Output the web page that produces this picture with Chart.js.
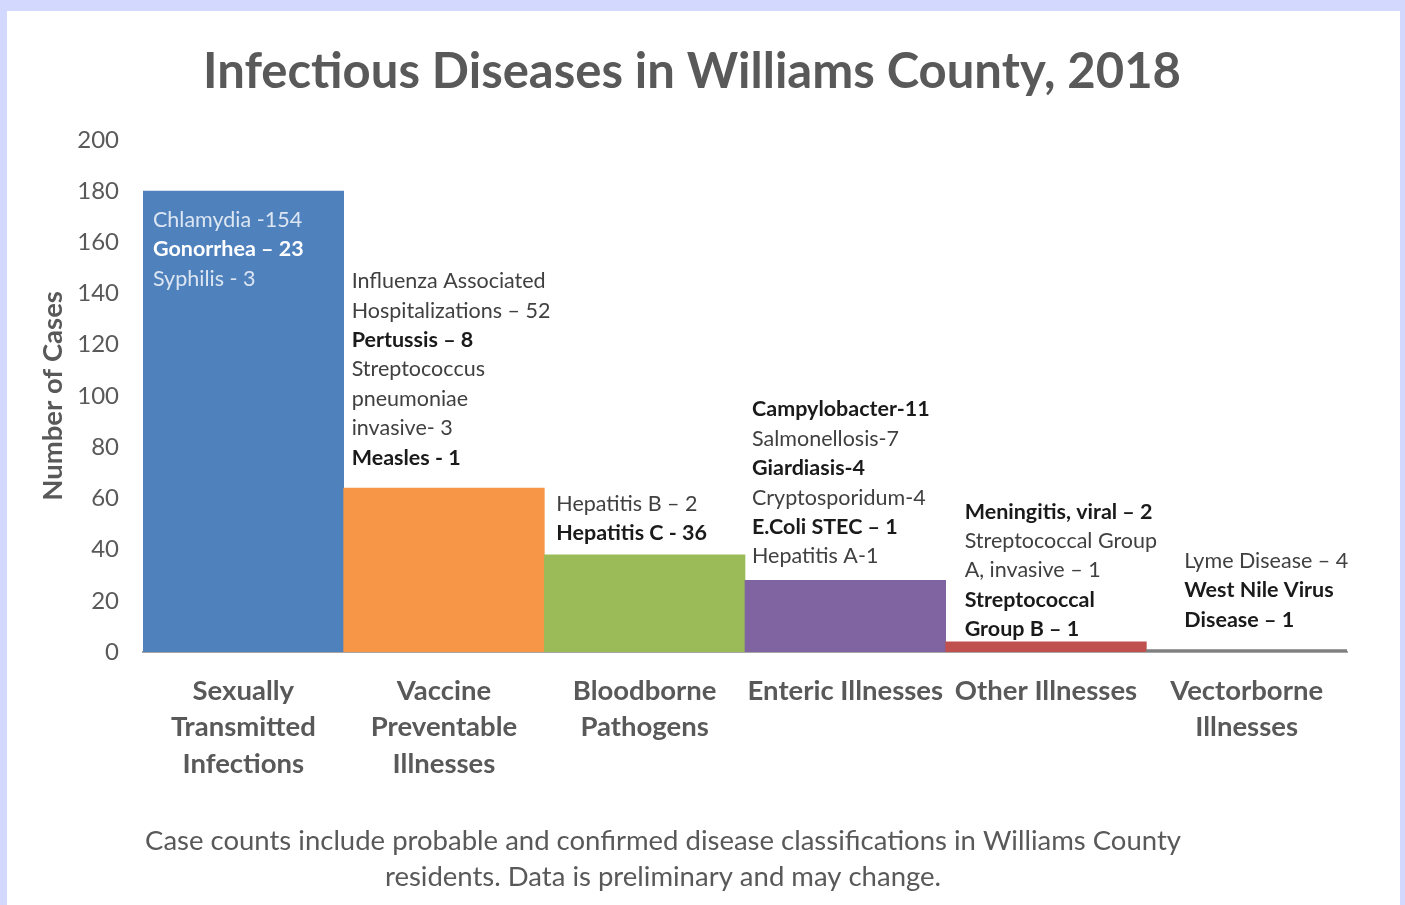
<!DOCTYPE html>
<html><head><meta charset="utf-8">
<script src="https://cdn.jsdelivr.net/npm/chart.js@4.4.1/dist/chart.umd.min.js"></script>
<style>
html,body{margin:0;padding:0;background:#d3d8fe;width:1405px;height:905px;overflow:hidden;}
#panel{position:absolute;left:7px;top:11px;width:1393px;height:894px;background:#fff;}
canvas{display:block;}
</style></head><body>
<div id="panel"><canvas id="c" width="1393" height="894"></canvas></div>
<script>
const categories = [["Sexually","Transmitted","Infections"],["Vaccine","Preventable","Illnesses"],["Bloodborne","Pathogens"],["Enteric Illnesses"],["Other Illnesses"],["Vectorborne","Illnesses"]];
const caseCounts = [180, 64, 38, 28, 4, 1];
const barColors = ["#4f81bd","#f79646","#9bbb59","#8064a2","#c0504d","#7f7f7f"];
const yMin = 0, yMax = 200, yStep = 20;
const titleText = "Infectious Diseases in Williams County, 2018";
const yTitle = "Number of Cases";
const footerLines = ["Case counts include probable and confirmed disease classifications in Williams County","residents. Data is preliminary and may change."];
// notes per category: [text, bold]
const notesSTI = [["Chlamydia -154",false],["Gonorrhea \u2013 23",true],["Syphilis - 3",false]];
const notesVPI = [["Influenza Associated",false],["Hospitalizations \u2013 52",false],["Pertussis \u2013 8",true],["Streptococcus",false],["pneumoniae",false],["invasive- 3",false],["Measles - 1",true]];
const notesBBP = [["Hepatitis B \u2013 2",false],["Hepatitis C - 36",true]];
const notesENT = [["Campylobacter-11",true],["Salmonellosis-7",false],["Giardiasis-4",true],["Cryptosporidum-4",false],["E.Coli STEC \u2013 1",true],["Hepatitis A-1",false]];
const notesOTH = [["Meningitis, viral \u2013 2",true],["Streptococcal Group",false],["A, invasive \u2013 1",false],["Streptococcal",true],["Group B \u2013 1",true]];
const notesVEC = [["Lyme Disease \u2013 4",false],["West Nile Virus",true],["Disease \u2013 1",true]];
const allNotes = [notesSTI, notesVPI, notesBBP, notesENT, notesOTH, notesVEC];
// layout of note blocks (first line position in axis units, x offset from bar left, colours)
const noteLayout = [
  {y:168.7, dx:10, bcolor:"#ffffff", color:"#dce6f2"},
  {y:144.8, dx:8, bcolor:"#1a1a1a", color:"#404040"},
  {y:57.9, dx:12, bcolor:"#1a1a1a", color:"#404040"},
  {y:94.7, dx:7, bcolor:"#1a1a1a", color:"#404040"},
  {y:54.8, dx:19, bcolor:"#1a1a1a", color:"#404040"},
  {y:35.6, dx:38, bcolor:"#1a1a1a", color:"#404040"}
];
const FONT = "Lato";
const notesPlugin = {
  id:'notes',
  afterDatasetsDraw(chart){
    const ctx = chart.ctx, ys = chart.scales.y, meta = chart.getDatasetMeta(0);
    ctx.save();
    ctx.textBaseline = 'middle'; ctx.textAlign = 'left';
    allNotes.forEach((lines,i)=>{
      const bar = meta.data[i];
      const x = bar.x - bar.width/2 + noteLayout[i].dx;
      let y = ys.getPixelForValue(noteLayout[i].y);
      lines.forEach(([t,b])=>{
        ctx.font = (b?'bold ':'') + '21.5px ' + FONT;
        ctx.fillStyle = b ? noteLayout[i].bcolor : noteLayout[i].color;
        ctx.fillText(t, x, y);
        y += 29.4;
      });
    });
    ctx.restore();
  }
};
const footerPlugin = {
  id:'footer',
  afterDraw(chart){
    const ctx = chart.ctx;
    ctx.save();
    ctx.font = '27.5px ' + FONT; ctx.fillStyle = '#595959';
    ctx.textAlign='center'; ctx.textBaseline='middle';
    footerLines.forEach((t,k)=>ctx.fillText(t, 656, 830 + k*36));
    ctx.restore();
  }
};
new Chart(document.getElementById('c'), {
  type:'bar',
  data:{labels:categories, datasets:[{data:caseCounts, backgroundColor:barColors, borderWidth:0, barPercentage:1, categoryPercentage:1}]},
  plugins:[notesPlugin, footerPlugin],
  options:{
    responsive:false, animation:false,
    layout:{padding:{left:30, right:53, top:0, bottom:102}},
    plugins:{
      legend:{display:false}, tooltip:{enabled:false},
      title:{display:true, text:titleText, color:'#595959', font:{family:FONT, size:49, weight:'bold'}, padding:{top:32, bottom:38}}
    },
    scales:{
      x:{grid:{display:false, drawTicks:false}, border:{display:true, color:'#a6a6a6', width:2},
         ticks:{color:'#595959', font:{family:FONT, size:27.5, weight:'bold', lineHeight:1.32}, padding:21, maxRotation:0, autoSkip:false}},
      y:{min:yMin, max:yMax, grid:{display:false, drawTicks:false}, border:{display:false},
         ticks:{stepSize:yStep, color:'#595959', font:{family:FONT, size:24}, padding:24},
         title:{display:true, text:yTitle, color:'#595959', font:{family:FONT, size:27.5, weight:'bold'}, padding:{top:0,bottom:8}},
         afterFit(s){ s.width = 106; }}
    }
  }
});
</script></body></html>
